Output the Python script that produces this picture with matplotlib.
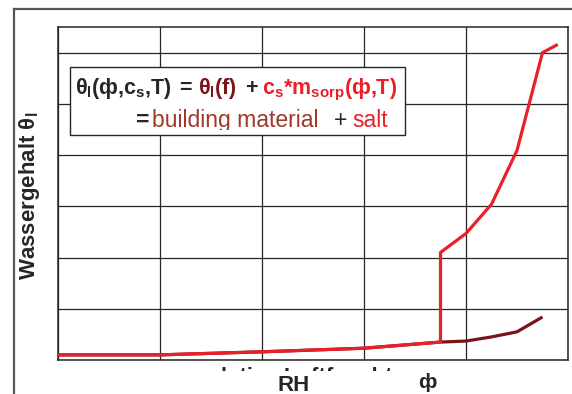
import matplotlib
matplotlib.use("Agg")
import matplotlib.pyplot as plt
from matplotlib.patches import Rectangle
from matplotlib.lines import Line2D
from matplotlib.transforms import Bbox

plt.rcParams['font.family'] = ['Liberation Sans', 'DejaVu Sans']
plt.rcParams['mathtext.fontset'] = 'custom'
plt.rcParams['mathtext.rm'] = 'Liberation Sans'
plt.rcParams['mathtext.it'] = 'Liberation Sans:italic'
plt.rcParams['mathtext.bf'] = 'Liberation Sans:bold'

# relative humidity in %, moisture content (arbitrary units)
rh_mat = [0, 20, 40, 60, 75, 80, 85, 90, 95]
theta_mat = [0.1, 0.1, 0.16, 0.23, 0.35, 0.37, 0.45, 0.55, 0.84]
rh_salt = [0, 20, 40, 60, 75, 75, 80, 85, 90, 95, 98]
theta_salt = [0.1, 0.1, 0.16, 0.23, 0.35, 2.1, 2.47, 3.04, 4.09, 6.0, 6.16]

W, H = 572, 394
dark = '#262626'
red = '#e8202a'
darkred = '#7a1418'
brown = '#a0382a'

fig = plt.figure(figsize=(W / 100, H / 100), dpi=100)

def fx(px):
    return px / W

def fy(py):
    return 1 - py / H

# outer frame (only top and left visible)
fig.add_artist(Line2D([fx(14), fx(14)], [0, fy(9)], color='#555555', lw=1.6))
fig.add_artist(Line2D([fx(14), 1], [fy(9), fy(9)], color='#555555', lw=1.6))

ax = fig.add_axes([fx(58), fy(360), fx(568) - fx(58), fy(27) - fy(360)])
ax.plot(rh_mat, theta_mat, color=darkred, lw=2.3, solid_capstyle='butt', zorder=3)
ax.plot(rh_salt, theta_salt, color=red, lw=2.3, solid_capstyle='butt', zorder=4)
ax.set_xlim(0, 100)
ax.set_ylim(0, 6.5)
ax.set_xticks(range(0, 101, 20))
ax.set_yticks(range(0, 7))
ax.grid(True, color=dark, lw=0.9)
ax.tick_params(length=0, labelbottom=False, labelleft=False)
for s in ax.spines.values():
    s.set_color(dark)
    s.set_linewidth(1.1)

# legend box with formula
fig.add_artist(Rectangle((fx(70), fy(135)), fx(405) - fx(70), fy(67) - fy(135),
                         transform=fig.transFigure, facecolor='white',
                         edgecolor=dark, lw=1.0, zorder=5))
fs1 = 15.5
base1 = fy(94)
line1 = [
    (75, r'$\mathbf{θ_l(ф{,}c_s{,}T)}$', dark),
    (179, '=', dark),
    (198, r'$\mathbf{θ_l(f)}$', darkred),
    (245, '+', dark),
    (262, r'$\mathbf{c_s{*}m_{sorp}(ф{,}T)}$', red),
]
for px, s, c in line1:
    fig.text(fx(px), base1, s, color=c, fontsize=fs1, fontweight='bold',
             va='baseline', ha='left', zorder=6)

fs2 = 16.5
base2 = fy(127)
clip = Bbox([[70, H - 130], [405, H - 67]])
line2 = [
    (136, '=', dark, 'bold'),
    (152, 'building material', brown, 'normal'),
    (334, '+', dark, 'normal'),
    (352, 'salt', red, 'normal'),
]
for px, s, c, w in line2:
    t = fig.text(fx(px), base2, s, color=c, fontsize=fs2, fontweight=w,
                 va='baseline', ha='left', zorder=6)
    t.set_clip_box(clip)
    t.set_clip_on(True)

# y label
fig.text(fx(30), fy(196), r'Wassergehalt $\mathbf{θ_l}$', rotation=90, fontsize=16,
         fontweight='bold', color=dark, ha='center', va='center')

# x label, mostly covered
fig.text(fx(200), fy(383), 'relative Luftfeuchte', fontsize=16, fontweight='bold',
         color=dark, ha='left', va='baseline', zorder=1)
fig.add_artist(Rectangle((fx(190), 0), fx(416) - fx(190), fy(371),
                         transform=fig.transFigure, facecolor='white',
                         edgecolor='none', zorder=2))
fig.text(fx(294), fy(391), 'RH', fontsize=16, fontweight='bold', color=dark,
         ha='center', va='baseline', zorder=3)
fig.text(fx(427), fy(388), 'ф', fontsize=15, fontweight='bold', color=dark,
         ha='center', va='baseline', zorder=3)

fig.savefig('out.png', dpi=100)
